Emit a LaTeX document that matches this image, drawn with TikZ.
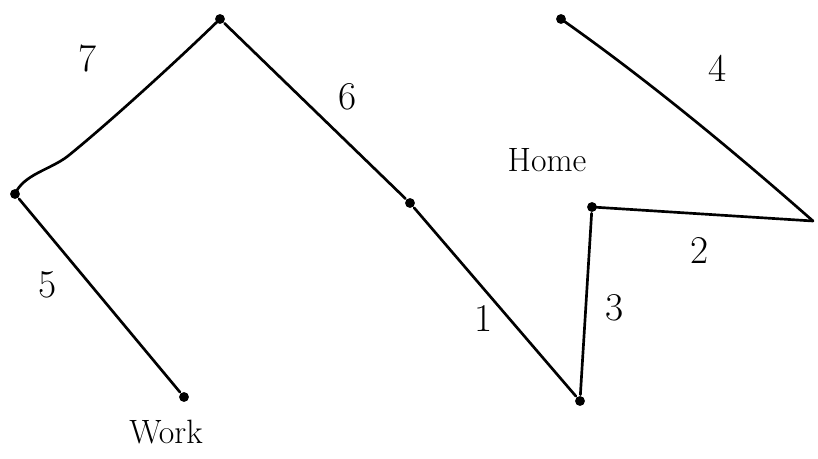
\documentclass[tikz,border=0pt]{standalone}
\usepackage{tikz}
\usetikzlibrary{arrows.meta}
\begin{document}
\begin{tikzpicture}[x=0.025cm, y=-0.025cm, line width=1.9pt, line cap=round, line join=round,
    dot/.style={circle, fill, inner sep=0pt, minimum size=7pt},
    leg/.style={font=\fontsize{28}{30}\selectfont},
    place/.style={font=\fontsize{24}{28}\selectfont}]
    \useasboundingbox (0,0) rectangle (818,459);

    % Stops on the route
    \node[dot] (peak) at (220,19) {};
    \node[dot] (corner) at (15,194) {};
    \node[dot] (work) at (184,397) {};
    \node[dot] (mid) at (410,203) {};
    \node[dot] (low) at (580,401) {};
    \node[dot] (home) at (592,207) {};
    \node[dot] (start) at (561,19) {};
    \coordinate (east) at (813,221);
    \coordinate (bend) at (68,156);

    % Legs
    \draw (mid) -- (low);
    \draw (east) -- (home.center);
    \draw (home) -- (low);
    \draw (start.center) .. controls (645,78) and (730,148) .. (east);
    \draw (corner) -- (work);
    \draw (peak) -- (mid);
    \draw (corner.center) .. controls (24,174) and (50,170) .. (bend)
        .. controls (110,122) and (180,58) .. (peak.center);

    % Leg numbers
    \node[leg] (n1) at (484,318) {1};
    \node[leg] (n2) at (700,250) {2};
    \node[leg] (n3) at (615,308) {3};
    \node[leg] (n4) at (718,68) {4};
    \node[leg] (n5) at (48,285) {5};
    \node[leg] (n6) at (348,97) {6};
    \node[leg] (n7) at (88,58) {7};

    % Places
    \node[place] (homelabel) at (547,160) {Home};
    \node[place] (worklabel) at (166,432) {Work};
\end{tikzpicture}
\end{document}
